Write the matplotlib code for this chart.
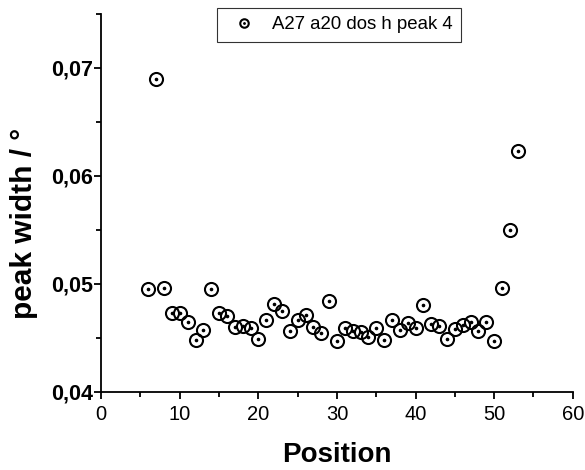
import matplotlib
matplotlib.use('Agg')

import matplotlib.pyplot as plt
from matplotlib.ticker import MultipleLocator, FuncFormatter

# DATA
positions = list(range(6, 54))
peak_width = [
    0.0495, 0.0690, 0.0496, 0.0473, 0.0473, 0.0465, 0.0448, 0.0457,
    0.0495, 0.0473, 0.0470, 0.0460, 0.0461, 0.0459, 0.0449, 0.0466,
    0.0481, 0.0475, 0.0456, 0.0466, 0.0471, 0.0460, 0.0454, 0.0484,
    0.0447, 0.0459, 0.0456, 0.0455, 0.0451, 0.0459, 0.0448, 0.0466,
    0.0457, 0.0464, 0.0459, 0.0480, 0.0463, 0.0461, 0.0449, 0.0458,
    0.0462, 0.0465, 0.0456, 0.0465, 0.0447, 0.0496, 0.0550, 0.0623,
]
series_label = "A27 a20 dos h peak 4"

plt.rcParams['font.family'] = ['Liberation Sans', 'DejaVu Sans']

fig = plt.figure(figsize=(5.85, 4.70), dpi=100)
ax = fig.add_axes([0.173, 0.1666, 0.806, 0.8036])

# open circle + centre dot, like the Origin symbol
circ, = ax.plot(positions, peak_width, 'o', mfc='none', mec='black',
                ms=9.4, mew=1.5, linestyle='none')
dot, = ax.plot(positions, peak_width, 'o', color='black', ms=1.6,
               linestyle='none')

ax.set_xlim(0, 60)
ax.set_ylim(0.04, 0.075)

ax.xaxis.set_major_locator(MultipleLocator(10))
ax.xaxis.set_minor_locator(MultipleLocator(5))
ax.yaxis.set_major_locator(MultipleLocator(0.01))
ax.yaxis.set_minor_locator(MultipleLocator(0.005))
ax.yaxis.set_major_formatter(FuncFormatter(lambda v, p: f"{v:.2f}".replace('.', ',')))

for side in ["top", "right"]:
    ax.spines[side].set_visible(False)
for side in ["left", "bottom"]:
    ax.spines[side].set_linewidth(1.3)

ax.tick_params(which='major', direction='out', length=5, width=1.3)
ax.tick_params(which='minor', direction='out', length=3.5, width=1.3)
ax.tick_params(axis='x', labelsize=14.5, pad=4.5)
ax.tick_params(axis='y', labelsize=15.5, pad=1)
for lbl in ax.get_yticklabels():
    lbl.set_fontweight('bold')

ax.set_xlabel("Position", fontsize=20, fontweight='bold')
ax.xaxis.set_label_coords(0.5, -0.132)
ax.set_ylabel("peak width / °", fontsize=21.5, fontweight='bold')
ax.yaxis.set_label_coords(-0.133, 0.446)

leg = ax.legend([(circ, dot)], [series_label], loc='upper center',
                bbox_to_anchor=(0.5795, 0.983), bbox_transform=fig.transFigure,
                fontsize=13.4, frameon=True, fancybox=False, markerscale=0.65,
                handlelength=2.0, handletextpad=0.5, borderpad=0.45,
                borderaxespad=0)
leg.get_frame().set_edgecolor('black')
leg.get_frame().set_linewidth(0.8)

plt.savefig("out.png", dpi=100)
plt.close()
